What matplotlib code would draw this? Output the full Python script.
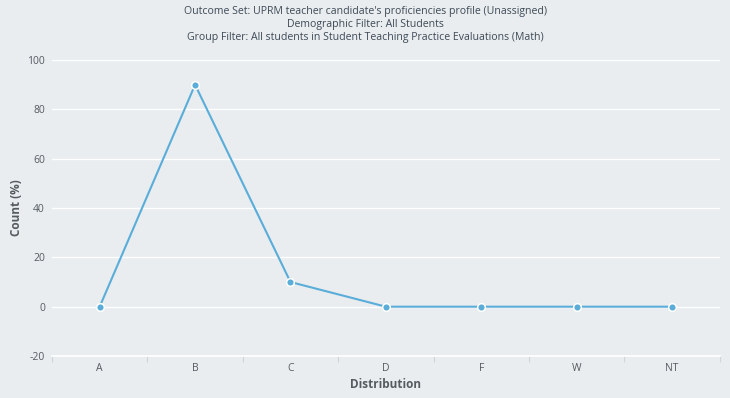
import numpy as np
import matplotlib
matplotlib.use("Agg")
import matplotlib.pyplot as plt

# ---- data ----
categories = ["A", "B", "C", "D", "F", "W", "NT"]
count_pct = [0, 90, 10, 0, 0, 0, 0]
y_ticks = [-20, 0, 20, 40, 60, 80, 100]
title_lines = [
    "Outcome Set: UPRM teacher candidate's proficiencies profile (Unassigned)",
    "Demographic Filter: All Students",
    "Group Filter: All students in Student Teaching Practice Evaluations (Math)",
]

BG = "#e9edf0"
LINE = "#5aadd9"
TXT = "#555b61"

plt.rcParams["font.family"] = ["Open Sans", "DejaVu Sans"]
plt.rcParams["axes.unicode_minus"] = False

fig = plt.figure(figsize=(7.3, 3.98), dpi=100, facecolor=BG)
ax = fig.add_axes([0.0712, 0.1055, 0.9148, 0.7435], facecolor=BG)

x = np.arange(len(categories))
ax.plot(x, count_pct, color=LINE, lw=1.5, marker="o", ms=5.5,
        markerfacecolor=LINE, markeredgecolor="white", markeredgewidth=1.1,
        zorder=3, clip_on=False)

ax.set_xlim(-0.5, len(categories) - 0.5)
ax.set_ylim(-20, 100)
ax.set_yticks(y_ticks)
ax.grid(axis="y", color="white", lw=1.0)
ax.set_axisbelow(True)

ax.set_xticks(x)
ax.set_xticklabels(categories)
ax.set_xticks(np.arange(-0.5, len(categories)), minor=True)
ax.tick_params(axis="x", which="major", length=0, pad=5, labelsize=7.5, labelcolor=TXT)
ax.tick_params(axis="x", which="minor", length=4, color="#d0d5da", width=0.8)
ax.tick_params(axis="y", length=0, pad=5, labelsize=7.5, labelcolor=TXT)

for s in ["top", "right", "left"]:
    ax.spines[s].set_visible(False)
ax.spines["bottom"].set_color("white")
ax.spines["bottom"].set_linewidth(1.2)

ax.set_xlabel("Distribution", fontsize=8.5, fontweight="bold", color=TXT, labelpad=3)
ax.set_ylabel("Count (%)", fontsize=8.5, fontweight="bold", color=TXT, labelpad=3)

fig.text(0.5, 0.985, "\n".join(title_lines), ha="center", va="top",
         fontsize=7.6, color="#3e4a56", linespacing=1.25)

fig.savefig("out.png", dpi=100, facecolor=BG)
